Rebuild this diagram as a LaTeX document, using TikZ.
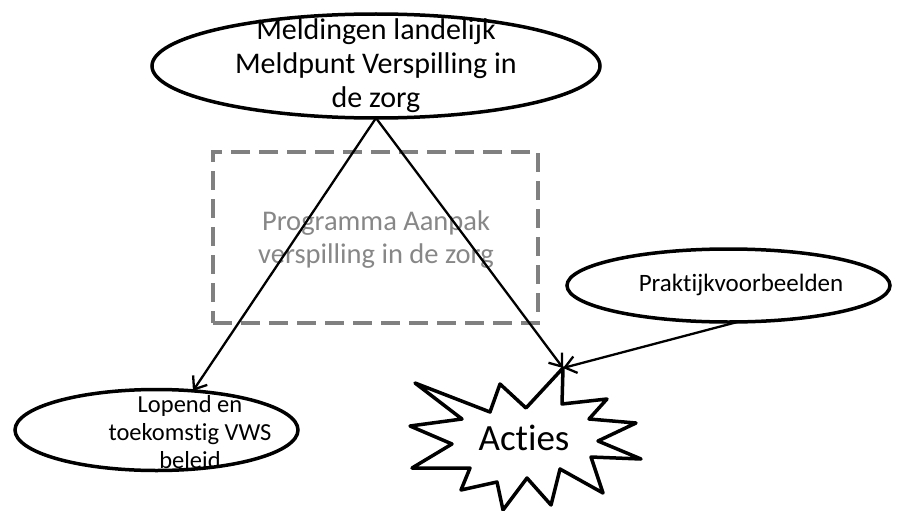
\documentclass[tikz,border=0pt]{standalone}
\usepackage{fontspec}
\setmainfont{Carlito}[Ligatures=NoCommon]
\usetikzlibrary{arrows.meta,shapes.geometric}
\definecolor{dashgray}{RGB}{128,128,128}
\definecolor{txtgray}{RGB}{135,135,135}
\begin{document}
\begin{tikzpicture}[x=1pt,y=-1pt,
  oval/.style={ellipse, draw, line width=3.5pt, inner sep=0pt, outer sep=0pt},
  link/.style={line width=2.3pt, -{Straight Barb[length=11pt,width=17pt]}},
  lbl/.style={anchor=base, inner sep=0pt, outer sep=0pt, align=center},
  dashbox/.style={draw=dashgray, line width=3.3pt, dash pattern=on 19pt off 9pt, inner sep=0pt, outer sep=0pt},
  burst/.style={draw, line width=3.5pt, line join=round}
]
\useasboundingbox (0,0) rectangle (910,511);

% dashed programme box
\node[dashbox, minimum width=325pt, minimum height=171pt] (prog) at (375.5,237.5) {};
\node[lbl, text=txtgray, font=\fontsize{28.5}{33}\selectfont] (progtxt) at (376,230)
  {\begin{tabular}[t]{@{}c@{}}Programma Aanpak\\verspilling in de zorg\end{tabular}};

% ellipses
\node[oval, minimum width=448pt, minimum height=104pt] (meld) at (376,66) {};
\node[lbl, font=\fontsize{30}{34}\selectfont] (meldtxt) at (376,40)
  {\begin{tabular}[t]{@{}c@{}}Meldingen landelijk\\Meldpunt Verspilling in\\de zorg\end{tabular}};

\node[oval, minimum width=283pt, minimum height=81pt] (vws) at (156.5,430) {};
\node[lbl, font=\fontsize{24.5}{28}\selectfont] (vwstxt) at (190,412)
  {\begin{tabular}[t]{@{}c@{}}Lopend en\\toekomstig VWS\\beleid\end{tabular}};

\node[oval, minimum width=323pt, minimum height=73pt] (prak) at (728.5,285.5) {};
\node[lbl, font=\fontsize{25}{30}\selectfont] (praktxt) at (741,291) {Praktijkvoorbeelden};

% explosion shape
\coordinate (tip) at (563,368);
\draw[burst] (tip) -- (562,404) -- (607,399) -- (589,419) -- (636,423) -- (598,441)
  -- (641,459) -- (591,457) -- (603,493) -- (560,469) -- (551,505) -- (527,478)
  -- (503,510) -- (497,482) -- (461,490) -- (470,468) -- (412,468) -- (452,444)
  -- (410,426) -- (462,419) -- (415,383) -- (490,412) -- (500,384) -- (526,408) -- cycle;
\node[lbl, font=\fontsize{37}{44}\selectfont] (acties) at (524,450) {Acties};

% connectors
\draw[link] (meld.south) -- (vws.47);
\draw[link] (meld.south) -- (tip);
\draw[link] (prak.-76) -- (tip);
\end{tikzpicture}
\end{document}
